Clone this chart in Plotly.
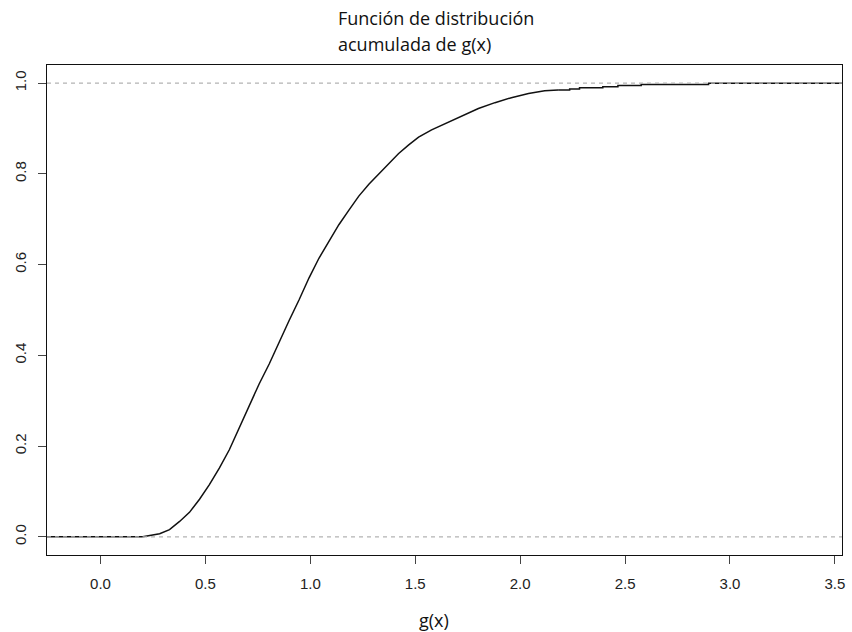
import plotly.graph_objects as go

# Empirical CDF of g(x): smooth body read at regular abscissae
body_x = [0.201, 0.282, 0.329, 0.377, 0.424, 0.472, 0.519, 0.567, 0.614, 0.661,
          0.709, 0.756, 0.804, 0.851, 0.899, 0.946, 0.994, 1.041, 1.089, 1.136,
          1.184, 1.231, 1.279, 1.326, 1.374, 1.421, 1.469, 1.516, 1.578, 1.643,
          1.72, 1.801, 1.88, 1.958, 2.04, 2.117, 2.181]
body_f = [0.0, 0.007, 0.016, 0.034, 0.054, 0.083, 0.115, 0.152, 0.192, 0.241,
          0.290, 0.337, 0.381, 0.430, 0.477, 0.522, 0.571, 0.614, 0.653, 0.688,
          0.720, 0.751, 0.777, 0.800, 0.823, 0.845, 0.864, 0.881, 0.897, 0.911,
          0.928, 0.944, 0.957, 0.968, 0.977, 0.983, 0.985]

# Upper tail, where the individual jumps of the step function are visible
tail_x = [2.181, 2.236, 2.283, 2.394, 2.466, 2.577, 2.898]
tail_f = [0.985, 0.987, 0.990, 0.992, 0.995, 0.997, 1.0]

x_range = [-0.255, 3.534]
y_range = [-0.04, 1.04]
x_ticks = [0.0, 0.5, 1.0, 1.5, 2.0, 2.5, 3.0, 3.5]
x_ticklabels = ["0.0", "0.5", "1.0", "1.5", "2.0", "2.5", "3.0", "3.5"]
y_ticks = [0.0, 0.2, 0.4, 0.6, 0.8, 1.0]
y_ticklabels = ["0.0", "0.2", "0.4", "0.6", "0.8", "1.0"]

title_lines = ["Función de distribución", "acumulada de g(x)"]
x_title = "g(x)"

line_style = dict(color="#111111", width=1.5)

fig = go.Figure()

# flat part left of the first jump
fig.add_trace(go.Scatter(x=[x_range[0], body_x[0]], y=[0, 0], mode="lines",
                         line=line_style, hoverinfo="skip"))
# body of the curve
fig.add_trace(go.Scatter(x=body_x, y=body_f, mode="lines", line=line_style))
# stepped tail and the flat part right of the last jump
fig.add_trace(go.Scatter(x=tail_x + [x_range[1]], y=tail_f + [tail_f[-1]],
                         mode="lines", line=dict(shape="hv", **line_style)))

# dashed reference lines at 0 and 1, drawn over the curve
for level in (0.0, 1.0):
    fig.add_trace(go.Scatter(x=x_range, y=[level, level], mode="lines",
                             line=dict(color="#b3b3b3", width=1.2, dash="4px,4px"),
                             hoverinfo="skip"))

axis_common = dict(
    showline=True, linecolor="#111111", linewidth=1.2, mirror=True,
    showgrid=False, zeroline=False,
    ticks="outside", ticklen=8, tickwidth=1, tickcolor="#444444",
    tickfont=dict(family="Liberation Sans, Arial, sans-serif", size=15, color="#222222"),
)

fig.update_layout(
    width=852, height=632,
    margin=dict(l=47, r=7, t=65, b=77),
    paper_bgcolor="white", plot_bgcolor="white",
    showlegend=False,
    xaxis=dict(range=x_range, tickvals=x_ticks, ticktext=x_ticklabels,
               ticklabelstandoff=7, **axis_common),
    yaxis=dict(range=y_range, tickvals=y_ticks, ticktext=y_ticklabels,
               tickangle=-90, ticklabelstandoff=6, **axis_common),
)

text_font = dict(family="Open Sans, sans-serif", size=18, color="#111111")
for line, ypos in zip(title_lines, [1.096, 1.042]):
    fig.add_annotation(text=line, xref="paper", yref="paper", x=0.363, y=ypos,
                       xanchor="left", yanchor="middle", showarrow=False,
                       font=text_font)
fig.add_annotation(text=x_title, xref="paper", yref="paper", x=0.487, y=-0.133,
                   xanchor="center", yanchor="middle", showarrow=False,
                   font=text_font)

fig.write_html("out.html")
